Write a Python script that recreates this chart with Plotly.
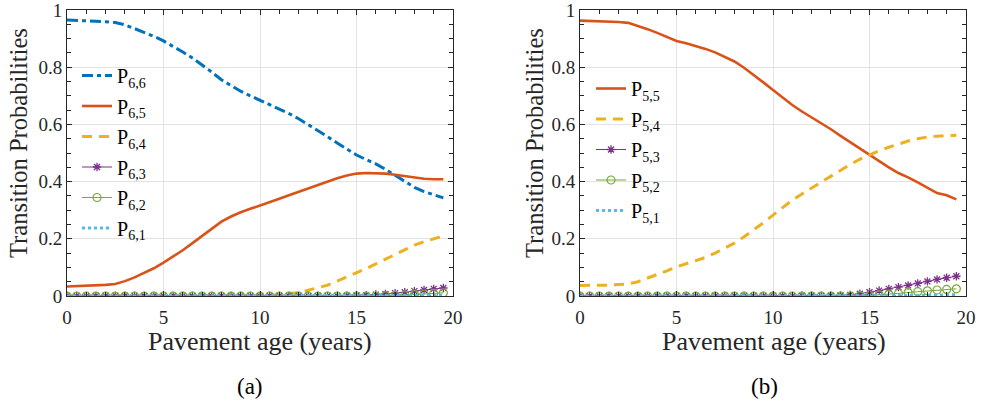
import plotly.graph_objects as go

age = [0, 0.5, 1, 1.5, 2, 2.5, 3, 3.5, 4, 4.5, 5, 5.5, 6, 6.5, 7, 7.5, 8, 8.5, 9, 9.5,
       10, 10.5, 11, 11.5, 12, 12.5, 13, 13.5, 14, 14.5, 15, 15.5, 16, 16.5, 17, 17.5, 18, 18.5, 19, 19.5]

# Panel (a)
p66 = [0.965, 0.964, 0.963, 0.961, 0.959, 0.956, 0.948, 0.935, 0.922, 0.908, 0.892, 0.873, 0.853, 0.832, 0.808, 0.783, 0.756, 0.735, 0.716, 0.700,
       0.685, 0.670, 0.655, 0.638, 0.620, 0.600, 0.578, 0.557, 0.535, 0.513, 0.493, 0.477, 0.462, 0.443, 0.422, 0.400, 0.380, 0.365, 0.353, 0.343]
p65 = [0.033, 0.034, 0.035, 0.037, 0.039, 0.042, 0.052, 0.065, 0.080, 0.097, 0.117, 0.138, 0.160, 0.185, 0.210, 0.236, 0.260, 0.278, 0.293, 0.305,
       0.316, 0.328, 0.340, 0.352, 0.364, 0.377, 0.390, 0.402, 0.412, 0.421, 0.428, 0.430, 0.430, 0.428, 0.424, 0.419, 0.414, 0.410, 0.408, 0.408]
p64 = [0.000, 0.000, 0.000, 0.000, 0.000, 0.000, 0.000, 0.000, 0.000, 0.000, 0.000, 0.000, 0.000, 0.000, 0.000, 0.000, 0.000, 0.001, 0.001, 0.001,
       0.002, 0.002, 0.004, 0.007, 0.012, 0.020, 0.028, 0.038, 0.052, 0.066, 0.080, 0.096, 0.112, 0.128, 0.145, 0.162, 0.178, 0.190, 0.200, 0.210]
p63 = [0.000, 0.000, 0.000, 0.000, 0.000, 0.000, 0.000, 0.000, 0.000, 0.000, 0.000, 0.000, 0.000, 0.000, 0.000, 0.000, 0.000, 0.000, 0.000, 0.000,
       0.000, 0.000, 0.000, 0.000, 0.000, 0.000, 0.000, 0.000, 0.000, 0.001, 0.002, 0.003, 0.005, 0.007, 0.010, 0.013, 0.017, 0.021, 0.025, 0.028]
p62 = [0.000, 0.000, 0.000, 0.000, 0.000, 0.000, 0.000, 0.000, 0.000, 0.000, 0.000, 0.000, 0.000, 0.000, 0.000, 0.000, 0.000, 0.000, 0.000, 0.000,
       0.000, 0.000, 0.000, 0.000, 0.000, 0.000, 0.000, 0.000, 0.000, 0.000, 0.000, 0.000, 0.000, 0.001, 0.002, 0.003, 0.005, 0.007, 0.009, 0.011]
p61 = [0.000, 0.000, 0.000, 0.000, 0.000, 0.000, 0.000, 0.000, 0.000, 0.000, 0.000, 0.000, 0.000, 0.000, 0.000, 0.000, 0.000, 0.000, 0.000, 0.000,
       0.000, 0.000, 0.000, 0.000, 0.000, 0.000, 0.000, 0.000, 0.000, 0.000, 0.000, 0.000, 0.000, 0.000, 0.000, 0.000, 0.001, 0.001, 0.002, 0.003]

# Panel (b)
p55 = [0.963, 0.962, 0.961, 0.960, 0.958, 0.955, 0.945, 0.933, 0.920, 0.905, 0.892, 0.884, 0.875, 0.864, 0.852, 0.837, 0.820, 0.798, 0.774, 0.747,
       0.720, 0.693, 0.668, 0.645, 0.625, 0.604, 0.583, 0.560, 0.538, 0.515, 0.493, 0.470, 0.450, 0.430, 0.415, 0.397, 0.378, 0.360, 0.352, 0.338]
p54 = [0.037, 0.037, 0.038, 0.038, 0.040, 0.042, 0.050, 0.062, 0.075, 0.088, 0.102, 0.113, 0.123, 0.135, 0.150, 0.167, 0.185, 0.207, 0.230, 0.256,
       0.283, 0.310, 0.335, 0.357, 0.378, 0.398, 0.418, 0.440, 0.460, 0.478, 0.494, 0.508, 0.520, 0.532, 0.542, 0.550, 0.556, 0.559, 0.560, 0.562]
p53 = [0.000, 0.000, 0.000, 0.000, 0.000, 0.000, 0.000, 0.000, 0.000, 0.000, 0.000, 0.000, 0.000, 0.000, 0.000, 0.000, 0.000, 0.000, 0.000, 0.000,
       0.000, 0.000, 0.000, 0.001, 0.001, 0.001, 0.001, 0.002, 0.004, 0.008, 0.013, 0.019, 0.025, 0.031, 0.037, 0.044, 0.051, 0.058, 0.064, 0.069]
p52 = [0.000, 0.000, 0.000, 0.000, 0.000, 0.000, 0.000, 0.000, 0.000, 0.000, 0.000, 0.000, 0.000, 0.000, 0.000, 0.000, 0.000, 0.000, 0.000, 0.000,
       0.000, 0.000, 0.000, 0.000, 0.000, 0.000, 0.000, 0.000, 0.000, 0.001, 0.002, 0.004, 0.006, 0.009, 0.012, 0.015, 0.018, 0.021, 0.023, 0.025]
p51 = [0.000, 0.000, 0.000, 0.000, 0.000, 0.000, 0.000, 0.000, 0.000, 0.000, 0.000, 0.000, 0.000, 0.000, 0.000, 0.000, 0.000, 0.000, 0.000, 0.000,
       0.000, 0.000, 0.000, 0.000, 0.000, 0.000, 0.000, 0.000, 0.000, 0.000, 0.000, 0.000, 0.000, 0.000, 0.000, 0.001, 0.002, 0.003, 0.004, 0.005]

x_ticks = [0, 5, 10, 15, 20]
y_ticks = [0, 0.2, 0.4, 0.6, 0.8, 1]
y_tick_text = ["0", "0.2", "0.4", "0.6", "0.8", "1"]

BLUE = "#0072BD"
RED = "#D95319"
YELLOW = "#EDB120"
PURPLE = "#7E2F8E"
GREEN = "#77AC30"
CYAN = "#4DBEEE"

FONT = "Liberation Serif"
AX = "#262626"

fig = go.Figure()


def trace(name, y, xa, ya, leg, kind):
    common = dict(x=age, y=y, name=name, xaxis=xa, yaxis=ya, legend=leg, legendgroup=name)
    if kind == "dashdot":
        return go.Scatter(mode="lines", line=dict(color=BLUE, width=3, dash="11px,4px,4px,4px"), **common)
    if kind == "solid":
        return go.Scatter(mode="lines", line=dict(color=RED, width=2.6), **common)
    if kind == "dash":
        return go.Scatter(mode="lines", line=dict(color=YELLOW, width=3, dash="10px,7px"), **common)
    if kind == "star":
        return go.Scatter(mode="lines+markers", line=dict(color=PURPLE, width=1),
                          marker=dict(symbol="asterisk-open", size=7, color=PURPLE,
                                      line=dict(color=PURPLE, width=1.3)), **common)
    if kind == "circle":
        return go.Scatter(mode="lines+markers", line=dict(color=GREEN, width=1),
                          marker=dict(symbol="circle-open", size=8, color=GREEN,
                                      line=dict(color=GREEN, width=1.2)), **common)
    return go.Scatter(mode="lines", line=dict(color=CYAN, width=3, dash="3px,3px"), **common)


# Panel (a)
for name, y, kind in [("P<sub>6,6</sub>", p66, "dashdot"), ("P<sub>6,5</sub>", p65, "solid"),
                      ("P<sub>6,4</sub>", p64, "dash"), ("P<sub>6,3</sub>", p63, "star"),
                      ("P<sub>6,2</sub>", p62, "circle"), ("P<sub>6,1</sub>", p61, "dot")]:
    fig.add_trace(trace(name, y, "x", "y", "legend", kind))

# Panel (b)
for name, y, kind in [("P<sub>5,5</sub>", p55, "solid"), ("P<sub>5,4</sub>", p54, "dash"),
                      ("P<sub>5,3</sub>", p53, "star"), ("P<sub>5,2</sub>", p52, "circle"),
                      ("P<sub>5,1</sub>", p51, "dot")]:
    fig.add_trace(trace(name, y, "x2", "y2", "legend2", kind))

W, H = 981, 403


def px(x):
    return x / W


def py(y):
    return 1 - y / H


TOP, BOT = 10, 296


def xax(domain, anchor):
    return dict(domain=domain, anchor=anchor, range=[0, 20], tickvals=x_ticks, automargin=False,
                ticks="inside", ticklen=5, tickcolor=AX, showline=True, linecolor=AX,
                linewidth=1, mirror="ticks", showgrid=True, gridcolor="#e3e3e3", gridwidth=1,
                zeroline=False, tickfont=dict(family=FONT, size=19, color=AX), ticklabelstandoff=4,
                ticklabeloverflow="allow",
                minor=dict(dtick=1, ticks="inside", ticklen=4, tickcolor=AX, showgrid=False))


def yax(anchor):
    return dict(domain=[py(BOT), py(TOP)], anchor=anchor, range=[0, 1], tickvals=y_ticks,
                ticktext=y_tick_text, ticks="inside", ticklen=5, tickcolor=AX, showline=True, automargin=False,
                linecolor=AX, linewidth=1, mirror="ticks", showgrid=True, gridcolor="#e3e3e3",
                gridwidth=1, zeroline=False, tickfont=dict(family=FONT, size=19, color=AX),
                ticklabeloverflow="allow",
                minor=dict(dtick=0.05, ticks="inside", ticklen=4, tickcolor=AX, showgrid=False))


leg_common = dict(bgcolor="rgba(0,0,0,0)", borderwidth=0, font=dict(family=FONT, size=20, color="#000000"),
                  xref="paper", yref="paper", xanchor="left", yanchor="top", tracegroupgap=1.5, itemwidth=30)


def label(text, x, y, size, color="#000000", angle=0):
    return dict(text=text, x=px(x), y=py(y), xref="paper", yref="paper", showarrow=False,
                xanchor="center", yanchor="middle", textangle=angle,
                font=dict(family=FONT, size=size, color=color))


fig.update_layout(
    width=W, height=H, margin=dict(l=0, r=0, t=0, b=0, autoexpand=False),
    paper_bgcolor="white", plot_bgcolor="white",
    xaxis=xax([px(67), px(453)], "y"), yaxis=yax("x"),
    xaxis2=xax([px(580), px(966)], "y2"), yaxis2=yax("x2"),
    legend=dict(x=px(77), y=py(56), **leg_common),
    legend2=dict(x=px(591), y=py(69), **leg_common),
    annotations=[
        label("Pavement age (years)", 260, 341, 26, AX),
        label("Pavement age (years)", 774, 341, 26, AX),
        label("Transition Probabilities", 18, 143, 24.5, AX, -90),
        label("Transition Probabilities", 534, 143, 24.5, AX, -90),
        label("(a)", 250, 386, 23),
        label("(b)", 764, 386, 23),
    ],
)

fig.write_html("out.html", config={"displayModeBar": False},
               post_script="document.body.style.margin='0';document.body.style.overflow='hidden';")
